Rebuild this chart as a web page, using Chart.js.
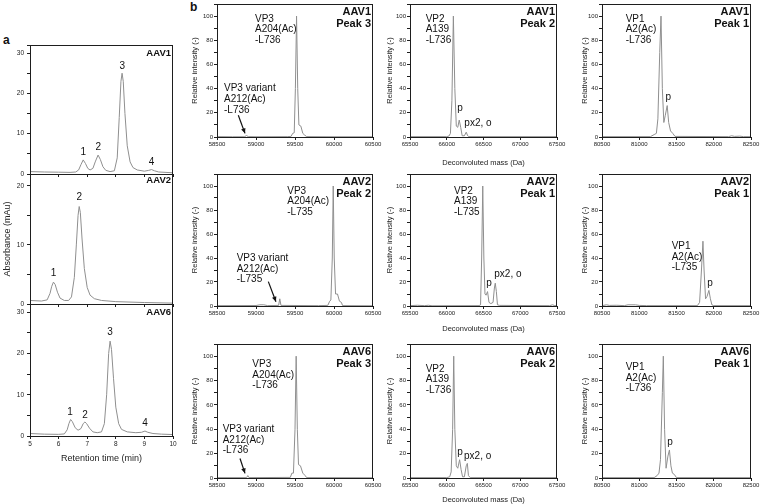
<!DOCTYPE html>
<html><head><meta charset="utf-8">
<script src="https://cdn.jsdelivr.net/npm/chart.js@4"></script>
<style>
html,body{margin:0;padding:0;background:#fff;}
body{width:760px;height:504px;position:relative;overflow:hidden;font-family:"Liberation Sans",Arial,sans-serif;}
canvas{position:absolute;}
.pl{position:absolute;font-weight:bold;font-size:12px;line-height:14px;color:#111;}
</style></head><body>
<div class="pl" style="left:3px;top:33px">a</div>
<div class="pl" style="left:190px;top:0px">b</div>
<script>
// ---------- axis ranges / tick labels ----------
const rtRange = [5, 10];
const rtTicks = [5, 6, 7, 8, 9, 10];
const vp3Range = [58500, 60500];
const vp2Range = [65500, 67500];
const vp1Range = [80500, 82500];
const intensityMax = 110;
const chromMaxAAV1 = 32, chromMaxAAV2 = 22, chromMaxAAV6 = 32;

// ---------- chromatograms (retention time min, absorbance mAu) ----------
const aav1Chrom = [[5.0,0.6],[5.5,0.5],[6.0,0.45],[6.4,0.4],[6.6,0.5],[6.7,1.0],[6.78,2.3],[6.86,3.5],[6.94,2.6],[7.02,1.4],[7.1,1.0],[7.2,1.4],[7.28,3.0],[7.38,4.7],[7.46,3.6],[7.55,1.8],[7.65,0.9],[7.8,0.6],[7.95,0.8],[8.05,4],[8.12,14],[8.18,23],[8.22,25],[8.26,23],[8.32,15],[8.4,7],[8.5,3],[8.6,1.6],[8.75,1.0],[9.0,0.7],[9.15,0.9],[9.25,1.1],[9.35,0.8],[9.5,0.5],[10.0,0.3]];
const aav2Chrom = [[5.0,0.6],[5.4,0.5],[5.6,0.7],[5.7,1.8],[5.76,3.0],[5.82,3.7],[5.88,3.3],[5.96,2.0],[6.05,1.0],[6.2,0.6],[6.35,0.6],[6.45,1.2],[6.55,4.5],[6.62,10],[6.68,15],[6.72,16.5],[6.76,15.5],[6.82,11],[6.9,6],[7.0,2.8],[7.1,1.5],[7.25,0.9],[7.5,0.6],[8.0,0.4],[9.0,0.25],[10.0,0.15]];
const aav6Chrom = [[5.0,0.6],[5.5,0.45],[6.0,0.4],[6.2,0.5],[6.3,1.5],[6.36,3.0],[6.42,4.0],[6.48,3.5],[6.58,2.0],[6.68,1.4],[6.78,1.8],[6.86,3.0],[6.92,3.4],[6.98,3.0],[7.08,1.9],[7.2,1.0],[7.35,0.8],[7.5,1.0],[7.6,3],[7.68,10],[7.75,20],[7.8,23],[7.85,21],[7.92,14],[8.0,7],[8.1,3],[8.2,1.6],[8.4,1.0],[8.7,0.8],[8.9,0.9],[9.02,1.2],[9.12,0.9],[9.3,0.6],[9.6,0.45],[10.0,0.35]];

// ---------- deconvoluted spectra (mass Da, relative intensity) ----------
const aav1Vp3 = [[58500,0.3],[58700,0.2],[58850,0.2],[58880,1.2],[58900,0.3],[59000,0.2],[59400,0.3],[59450,0.5],[59470,3],[59490,3.5],[59505,40],[59520,100],[59535,40],[59550,10],[59575,9],[59600,3],[59625,1.5],[59650,0.3],[60000,0.2],[60500,0.2]];
const aav2Vp3 = [[58500,0.3],[59000,0.4],[59050,1],[59100,1],[59150,0.3],[59290,0.5],[59305,6],[59320,0.5],[59800,0.3],[59920,0.5],[59945,4],[59960,5],[59978,40],[59990,100],[60003,40],[60020,10],[60045,10],[60070,4],[60095,3],[60110,0.3],[60500,0.2]];
const aav6Vp3 = [[58500,0.3],[58880,0.3],[58895,2],[58910,0.3],[59440,0.5],[59460,4],[59480,4],[59500,40],[59515,100],[59530,40],[59545,11],[59570,10],[59600,4],[59630,2],[59650,0.3],[60500,0.2]];
const aav1Vp2 = [[65500,0.3],[66000,0.3],[66030,0.8],[66050,3],[66070,30],[66090,100],[66110,40],[66130,9],[66150,8],[66170,14],[66190,8],[66210,1],[66240,1],[66265,4],[66285,1],[66300,0.3],[67500,0.3]];
const aav2Vp2 = [[65500,0.3],[65600,0.6],[65700,0.3],[65750,0.6],[65800,0.2],[66440,0.3],[66460,1],[66475,40],[66490,100],[66505,40],[66520,10],[66535,9],[66555,12],[66575,3],[66600,2],[66630,3],[66648,15],[66660,19],[66675,12],[66690,1],[66720,0.5],[67400,0.3],[67440,1],[67470,0.3],[67500,0.3]];
const aav6Vp2 = [[65500,0.3],[66000,0.3],[66040,1],[66060,5],[66080,40],[66095,100],[66110,40],[66130,10],[66150,8],[66175,15],[66195,7],[66215,1],[66240,1],[66265,10],[66280,12],[66295,2],[66320,0.3],[67500,0.3]];
const aav1Vp1 = [[80500,0.3],[81150,0.3],[81200,2],[81230,3],[81250,15],[81275,70],[81292,100],[81310,40],[81330,12],[81350,18],[81375,26],[81395,12],[81420,5],[81450,3],[81480,0.5],[82200,0.3],[82240,1],[82280,0.5],[82350,0.7],[82400,0.3],[82500,0.3]];
const aav2Vp1 = [[80500,0.3],[80560,1],[80600,0.5],[80700,0.6],[80800,0.3],[80850,1],[80950,1],[81000,0.5],[81100,0.3],[81780,0.3],[81810,3],[81835,30],[81855,54],[81870,30],[81890,6],[81910,8],[81935,13],[81955,6],[81975,1],[82000,0.3],[82500,0.3]];
const aav6Vp1 = [[80500,0.3],[81200,0.3],[81240,2],[81265,4],[81285,15],[81310,70],[81323,100],[81340,40],[81360,8],[81385,18],[81405,23],[81425,10],[81445,4],[81470,3],[81500,0.3],[82500,0.3]];

// ---------- rendering ----------
const FAM = "'Liberation Sans', Arial, sans-serif";
Chart.defaults.font.family = FAM;
const TRACE = '#8f8f8f', INK = '#111', FRAME = '#1e1e1e';

function decoPlugin(o) {
  return {
    id: 'deco',
    afterDraw(chart) {
      const {ctx, chartArea: a, scales: {x, y}} = chart;
      ctx.save();
      ctx.strokeStyle = FRAME; ctx.lineWidth = 1;
      const L = Math.round(a.left), T = Math.round(a.top), R = Math.round(a.right), B = Math.round(a.bottom);
      ctx.strokeRect(L + 0.5, T + 0.5, R - L - 1, B - T);
      ctx.fillStyle = INK; ctx.textBaseline = 'middle';
      (o.texts || []).forEach(t => {
        ctx.font = o.font; ctx.textAlign = t.align || 'left';
        const px = x.getPixelForValue(t.x), py = y.getPixelForValue(t.y);
        t.lines.forEach((s, i) => ctx.fillText(s, px, py + i * o.lh));
      });
      (o.arrows || []).forEach(([x1, y1, x2, y2]) => {
        const ax = x.getPixelForValue(x1), ay = y.getPixelForValue(y1);
        const bx = x.getPixelForValue(x2), by = y.getPixelForValue(y2);
        ctx.strokeStyle = INK; ctx.lineWidth = 1.2;
        ctx.beginPath(); ctx.moveTo(ax, ay); ctx.lineTo(bx, by); ctx.stroke();
        const g = Math.atan2(by - ay, bx - ax), hl = 5, hw = 2.3;
        ctx.beginPath(); ctx.moveTo(bx, by);
        ctx.lineTo(bx - hl * Math.cos(g) + hw * Math.sin(g), by - hl * Math.sin(g) - hw * Math.cos(g));
        ctx.lineTo(bx - hl * Math.cos(g) - hw * Math.sin(g), by - hl * Math.sin(g) + hw * Math.cos(g));
        ctx.closePath(); ctx.fill();
      });
      if (o.corner) {
        ctx.font = o.cornerFont; ctx.textAlign = 'right';
        o.corner.forEach((s, i) => ctx.fillText(s, a.right - 2, a.top + o.cornerDy + i * 12));
      }
      ctx.restore();
    }
  };
}

function mk(c) {
  const [L, T, R, B] = c.plot;
  const padT = 3, padR = 10;
  const cl = L - c.yw, ct = T - padT;
  const w = R + padR - cl, h = B + c.xh - ct;
  const cv = document.createElement('canvas');
  cv.width = w; cv.height = h;
  Object.assign(cv.style, {left: cl + 'px', top: ct + 'px', width: w + 'px', height: h + 'px'});
  document.body.appendChild(cv);
  new Chart(cv, {
    type: 'line',
    data: {datasets: [{data: c.pts.map(p => ({x: p[0], y: p[1]})), borderColor: TRACE, borderWidth: 1, pointRadius: 0, tension: 0, fill: false}]},
    options: {
      responsive: false, animation: false, events: [],
      layout: {padding: {left: 0, top: padT, right: padR, bottom: 0}},
      plugins: {legend: {display: false}, tooltip: {enabled: false}},
      scales: {
        x: {
          type: 'linear', min: c.xr[0], max: c.xr[1],
          border: {display: false},
          grid: {drawOnChartArea: false, drawTicks: true, tickLength: 3, color: FRAME},
          ticks: {display: c.showX !== false, stepSize: c.xStep, autoSkip: false, maxRotation: 0, padding: 1,
                  font: {size: c.tickSize, family: FAM}, color: '#222', callback: v => String(v)},
          title: {display: !!c.xTitle, text: c.xTitle || '', color: '#222', font: {size: c.titleSize, family: FAM}, padding: {top: 0, bottom: 0}},
          afterFit: s => { s.height = c.xh; s.paddingLeft = 0; s.paddingRight = 0; }
        },
        y: {
          type: 'linear', min: 0, max: c.ymax,
          border: {display: false},
          grid: {drawOnChartArea: false, drawTicks: true, tickLength: 3, color: FRAME},
          ticks: {stepSize: c.yStep, autoSkip: false, padding: c.yPad, font: {size: c.tickSize, family: FAM}, color: '#222',
                  callback: v => (Math.abs(v % c.yLab) < 1e-9 ? String(v) : '')},
          title: {display: !!c.yTitle, text: c.yTitle || '', color: '#222', font: {size: c.titleSize, family: FAM}, padding: {top: c.yTitlePad || 0, bottom: 0}},
          afterFit: s => { s.width = c.yw; s.paddingTop = 0; s.paddingBottom = 0; }
        }
      }
    },
    plugins: [decoPlugin(c.deco)]
  });
}

// ----- panel a -----
const chromBase = {xr: rtRange, xStep: 1, yStep: 5, yLab: 10, tickSize: 6.5, titleSize: 9, yw: 30, yPad: 3};
const chromDeco = {font: '10px ' + FAM, lh: 11, cornerFont: 'bold 9.5px ' + FAM, cornerDy: 8};
mk(Object.assign({}, chromBase, {plot: [30, 45, 173, 174], xh: 3, showX: false, pts: aav1Chrom, ymax: chromMaxAAV1,
  deco: Object.assign({}, chromDeco, {corner: ['AAV1'], texts: [
    {x: 6.86, y: 5.5, lines: ['1'], align: 'center'}, {x: 7.39, y: 6.7, lines: ['2'], align: 'center'},
    {x: 8.23, y: 26.8, lines: ['3'], align: 'center'}, {x: 9.25, y: 2.9, lines: ['4'], align: 'center'}]})}));
mk(Object.assign({}, chromBase, {plot: [30, 174, 173, 304], xh: 3, showX: false, pts: aav2Chrom, ymax: chromMaxAAV2,
  yTitle: 'Absorbance (mAu)', yTitlePad: 2.6,
  deco: Object.assign({}, chromDeco, {corner: ['AAV2'], cornerDy: 6.5, texts: [
    {x: 5.82, y: 5.2, lines: ['1'], align: 'center'}, {x: 6.72, y: 18.1, lines: ['2'], align: 'center'}]})}));
mk(Object.assign({}, chromBase, {plot: [30, 304, 173, 436], xh: 28, pts: aav6Chrom, ymax: chromMaxAAV6,
  xTitle: 'Retention time (min)',
  deco: Object.assign({}, chromDeco, {corner: ['AAV6'], texts: [
    {x: 6.4, y: 5.7, lines: ['1'], align: 'center'}, {x: 6.92, y: 5.1, lines: ['2'], align: 'center'},
    {x: 7.8, y: 25.2, lines: ['3'], align: 'center'}, {x: 9.02, y: 3.1, lines: ['4'], align: 'center'}]})}));

// ----- panel b -----
const specBase = {xStep: 500, yStep: 10, yLab: 20, tickSize: 6, titleSize: 7.5, ymax: intensityMax, yPad: 1, yTitle: 'Relative intensity (-)'};
const specDeco = {font: '10px ' + FAM, lh: 10.6, cornerFont: 'bold 11px ' + FAM, cornerDy: 8};
const cols = [[217, 373, 27], [410, 557, 25], [602, 751, 22]];
const rows = [[4, 137], [174, 306], [344, 478]];
const xTitleH = [30, 27, 26];
const spec = [
  [ {pts: aav1Vp3, xr: vp3Range, corner: ['AAV1', 'Peak 3'], texts: [{x: 58987, y: 97.5, lines: ['VP3', 'A204(Ac)', '-L736']}, {x: 58590, y: 40, lines: ['VP3 variant', 'A212(Ac)', '-L736']}], arrows: [[58773, 18, 58859, 3]]},
    {pts: aav1Vp2, xr: vp2Range, corner: ['AAV1', 'Peak 2'], texts: [{x: 65713, y: 97.5, lines: ['VP2', 'A139', '-L736']}, {x: 66180, y: 24, lines: ['p'], align: 'center'}, {x: 66239, y: 11.5, lines: ['px2, o']}]},
    {pts: aav1Vp1, xr: vp1Range, corner: ['AAV1', 'Peak 1'], texts: [{x: 80818, y: 97.5, lines: ['VP1', 'A2(Ac)', '-L736']}, {x: 81390, y: 33, lines: ['p'], align: 'center'}]} ],
  [ {pts: aav2Vp3, xr: vp3Range, corner: ['AAV2', 'Peak 2'], texts: [{x: 59401, y: 96, lines: ['VP3', 'A204(Ac)', '-L735']}, {x: 58752, y: 39.7, lines: ['VP3 variant', 'A212(Ac)', '-L735']}], arrows: [[59158, 20.3, 59256, 3.6]]},
    {pts: aav2Vp2, xr: vp2Range, corner: ['AAV2', 'Peak 1'], texts: [{x: 66099, y: 96, lines: ['VP2', 'A139', '-L735']}, {x: 66575, y: 19, lines: ['p'], align: 'center'}, {x: 66647, y: 26.7, lines: ['px2, o']}]},
    {pts: aav2Vp1, xr: vp1Range, corner: ['AAV2', 'Peak 1'], texts: [{x: 81435, y: 49.7, lines: ['VP1', 'A2(Ac)', '-L735']}, {x: 81950, y: 19, lines: ['p'], align: 'center'}]} ],
  [ {pts: aav6Vp3, xr: vp3Range, corner: ['AAV6', 'Peak 3'], texts: [{x: 58953, y: 93.4, lines: ['VP3', 'A204(Ac)', '-L736']}, {x: 58573, y: 40, lines: ['VP3 variant', 'A212(Ac)', '-L736']}], arrows: [[58795, 16, 58859, 3.8]]},
    {pts: aav6Vp2, xr: vp2Range, corner: ['AAV6', 'Peak 2'], texts: [{x: 65713, y: 89.6, lines: ['VP2', 'A139', '-L736']}, {x: 66180, y: 21.3, lines: ['p'], align: 'center'}, {x: 66235, y: 17.5, lines: ['px2, o']}]},
    {pts: aav6Vp1, xr: vp1Range, corner: ['AAV6', 'Peak 1'], texts: [{x: 80818, y: 90.7, lines: ['VP1', 'A2(Ac)', '-L736']}, {x: 81413, y: 29, lines: ['p'], align: 'center'}]} ]
];
spec.forEach((row, ri) => row.forEach((s, ci) => {
  const [L, R, yw] = cols[ci], [T, B] = rows[ri];
  mk(Object.assign({}, specBase, {
    plot: [L, T, R, B], yw, xh: ci === 1 ? xTitleH[ri] : 12, pts: s.pts, xr: s.xr,
    xTitle: ci === 1 ? 'Deconvoluted mass (Da)' : '',
    deco: Object.assign({}, specDeco, {corner: s.corner, texts: s.texts, arrows: s.arrows || []})
  }));
}));
</script>
</body></html>
